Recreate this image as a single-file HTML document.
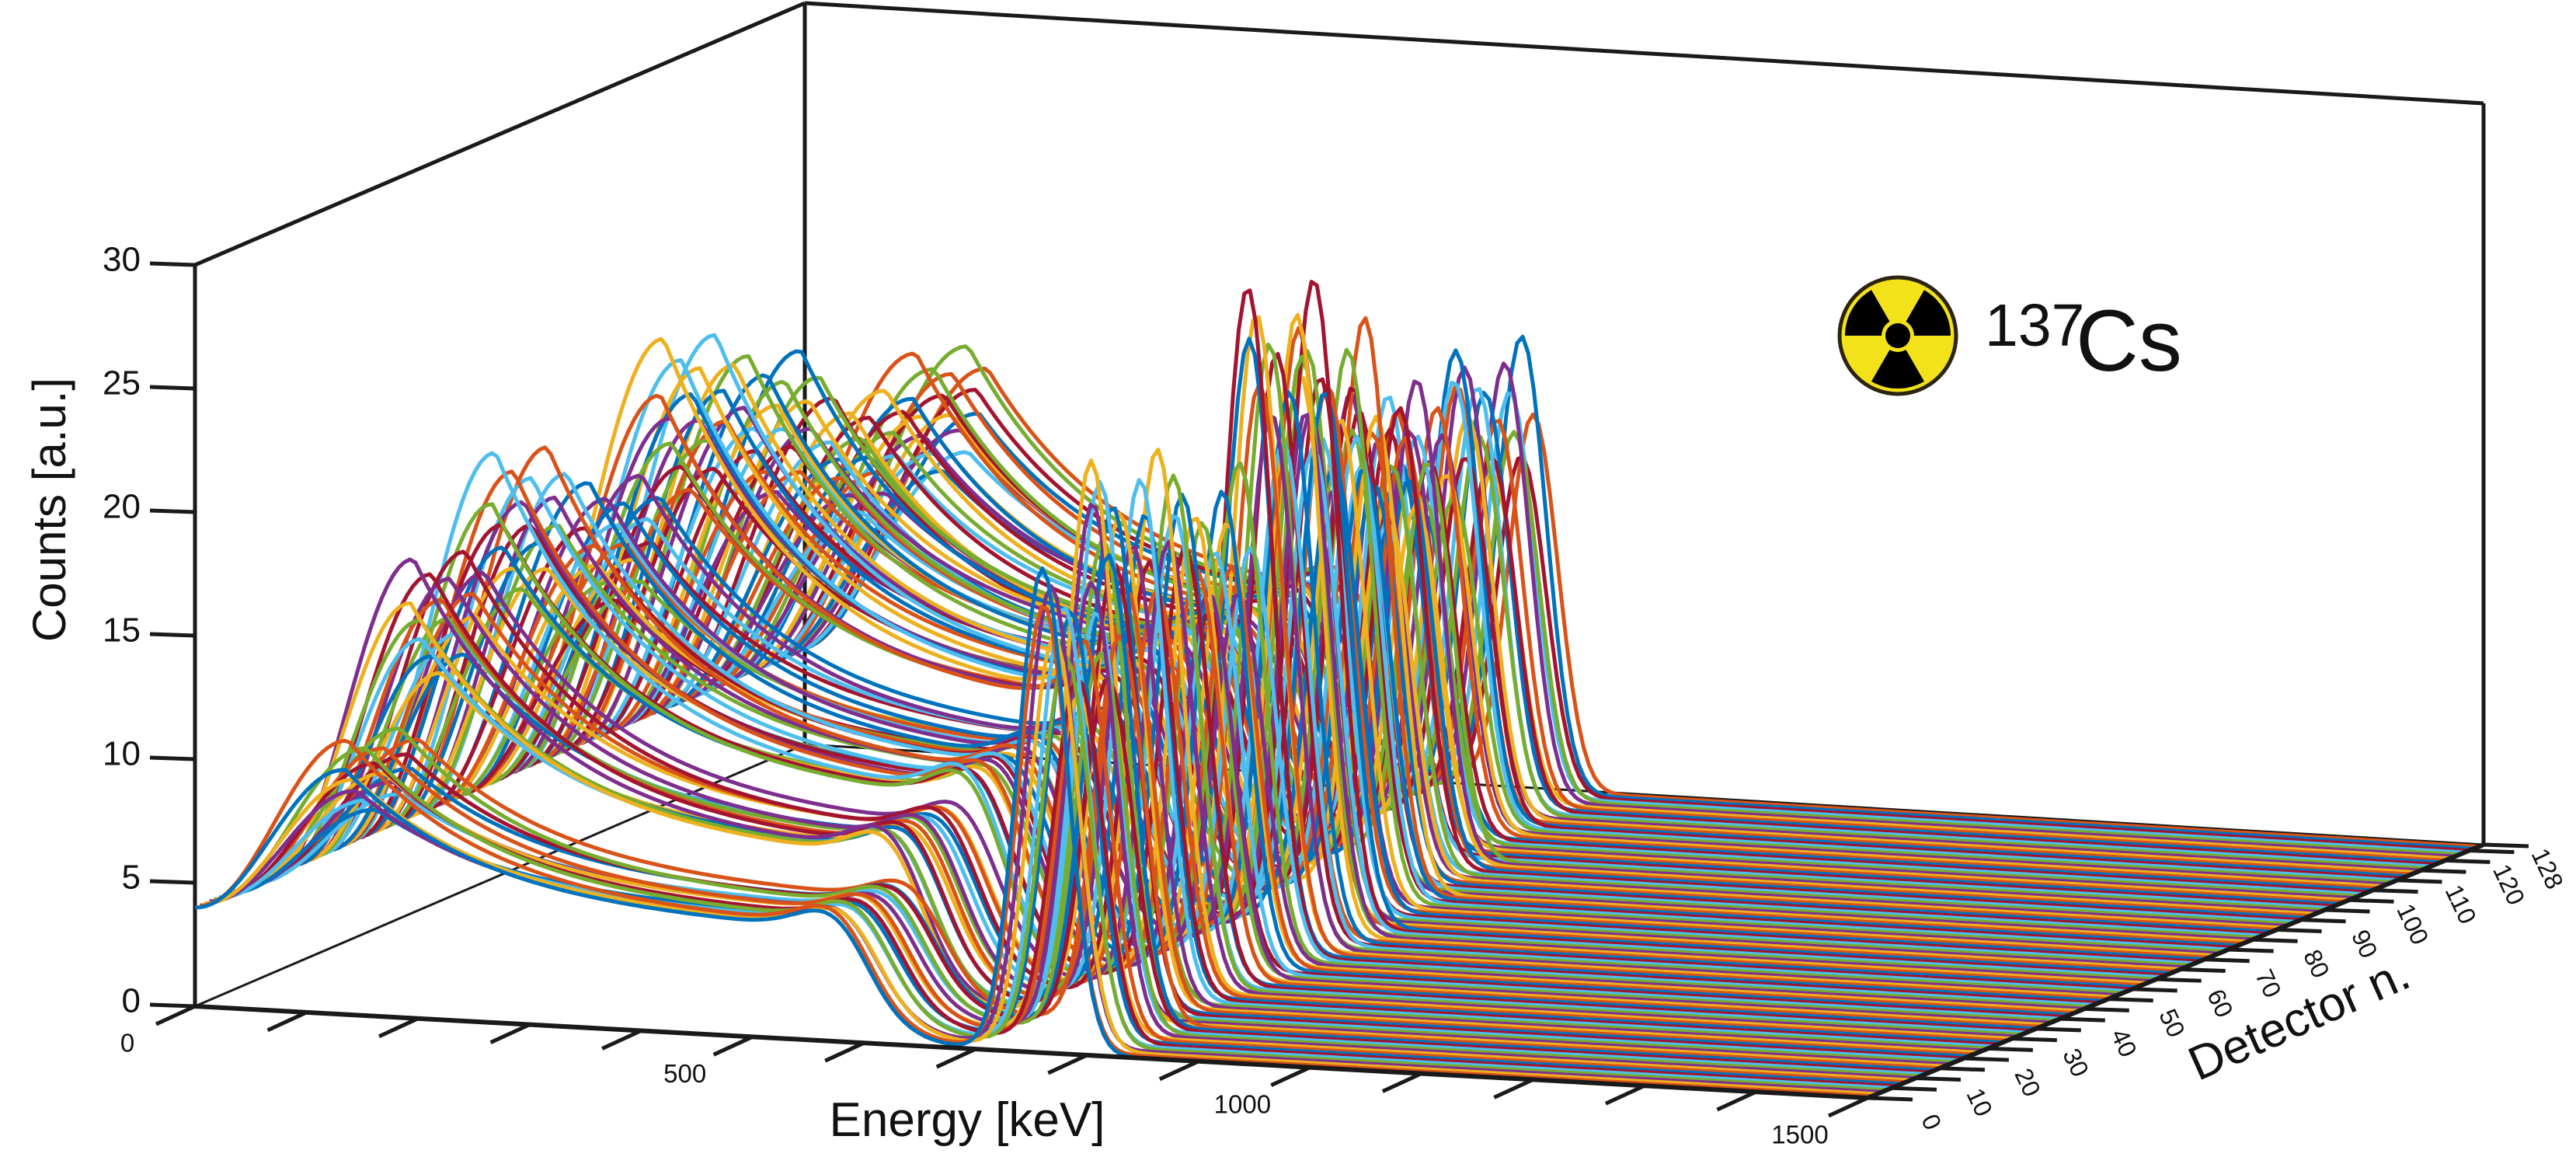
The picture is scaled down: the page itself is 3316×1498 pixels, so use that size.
<!DOCTYPE html>
<html><head><meta charset="utf-8"><title>137Cs spectra waterfall</title>
<style>
html,body{margin:0;padding:0;background:#fff;}
svg{display:block;}
text{font-family:"Liberation Sans",Arial,sans-serif;fill:#111;}
</style></head>
<body>
<svg id="chart" width="3316" height="1498" viewBox="0 0 3316 1498" xmlns="http://www.w3.org/2000/svg">
<g id="walls" stroke="#1a1a1a" stroke-width="5" fill="none"></g>
<g id="curves" fill="none" stroke-width="5" stroke-linejoin="round"></g>
<g id="axes" stroke="#1a1a1a" stroke-width="6" fill="none"></g>
<g id="labels"></g>
<g transform="translate(2443,432)">
  <circle r="75" fill="#f3e11a" stroke="#2a2410" stroke-width="5"/>
  <path d="M0,0 L-68,0 A68,68 0 0 1 -34,-58.9 Z" fill="#000"/>
  <path d="M0,0 L34,-58.9 A68,68 0 0 1 68,0 Z" fill="#000"/>
  <path d="M0,0 L34,58.9 A68,68 0 0 1 -34,58.9 Z" fill="#000"/>
  <circle r="21" fill="#f3e11a"/>
  <circle r="16" fill="#000"/>
</g>
<text x="2555" y="445" font-size="77">137</text>
<text x="2672" y="477" font-size="112">Cs</text>
<text x="0" y="0" font-size="60" text-anchor="middle" transform="translate(84,656) rotate(-90)">Counts [a.u.]</text>
<text x="1245" y="1462" font-size="62" text-anchor="middle">Energy [keV]</text>
<text x="0" y="0" font-size="62" text-anchor="middle" transform="translate(2968,1330) rotate(-24)">Detector n.</text>
</svg>
<script>
// ---- data (per detector module of 16 detectors) ----
const modulePeakEnergy = [760, 735, 740, 738, 715, 693, 658, 650];   // keV
const modulePeakHeight = [19.6, 22.6, 20.7, 27, 24, 20, 18.5, 19];    // counts
const moduleHumpEnergy = [135, 125, 130, 146, 144, 152, 160, 165];    // keV
const moduleHumpHeight = [11, 17, 20, 17.5, 22, 20, 17, 17.5];        // counts
const moduleContinuum = [4.5, 6, 7, 7, 8, 8, 7, 7];                   // counts
const detectorPeakShift = [0, -3, 2, -5, 4, -2, 6, -4, 3, -6, 1, 5, -3, 3, -1, 5];
const detectorHeightScale = [1, 0.92, 0.85, 0.95, 0.8, 0.9, 0.75, 0.88, 0.82, 0.7, 0.93, 0.78, 0.86, 0.72, 0.97, 0.8];
const detectorHumpScale = [0.9, 1, 0.85, 0.8, 0.95, 0.75, 0.88, 0.7, 0.92, 0.82, 0.78, 0.97, 0.72, 0.86, 0.8, 0.9];
const zTicks = [0, 5, 10, 15, 20, 25, 30];
const energyTicks = [0,100,200,300,400,500,600,700,800,900,1000,1100,1200,1300,1400,1500];
const energyTickLabels = ["0","500","1000","1500"];
const detectorTicks = [0,5,10,15,20,25,30,35,40,45,50,55,60,65,70,75,80,85,90,95,100,105,110,115,120,125,128];
const detectorTickLabels = ["0","10","20","30","40","50","60","70","80","90","100","110","120","128"];
const colors = ["#0072BD","#D95319","#EDB120","#7E2F8E","#77AC30","#4DBEEE","#A2142F"];

const NS = "http://www.w3.org/2000/svg";
const EMAX = 1500, DMAX = 128, ZMAX = 30;
function P(E, d, z) {
  const e = E / EMAX, t = d / DMAX;
  return [251 + e*2153 + t*785 + e*t*8, 1295 + e*118 - t*337 + e*t*11 - z*31.8];
}
function line(g, a, b, name, w) {
  const l = document.createElementNS(NS, "line");
  l.setAttribute("x1", a[0]); l.setAttribute("y1", a[1]);
  l.setAttribute("x2", b[0]); l.setAttribute("y2", b[1]);
  if (w) l.setAttribute("stroke-width", w);
  
  
  g.appendChild(l);
}
function text(str, x, y, size, anchor, rot, name) {
  const t = document.createElementNS(NS, "text");
  t.textContent = str;
  t.setAttribute("font-size", size);
  t.setAttribute("text-anchor", anchor);
  t.setAttribute("dominant-baseline", "middle");
  t.setAttribute("transform", "translate(" + x + "," + y + ")" + (rot ? " rotate(" + rot + ")" : ""));
  
  
  document.getElementById("labels").appendChild(t);
}
const walls = document.getElementById("walls");
line(walls, P(0,0,0), P(0,0,ZMAX), "z-axis-line");
line(walls, P(0,0,ZMAX), P(0,DMAX,ZMAX), "left-wall-top-edge");
line(walls, P(0,DMAX,0), P(0,DMAX,ZMAX), "back-left-edge");
line(walls, P(0,DMAX,ZMAX), P(EMAX,DMAX,ZMAX), "back-wall-top-edge");
line(walls, P(EMAX,DMAX,0), P(EMAX,DMAX,ZMAX), "back-right-edge");
line(walls, P(0,0,0), P(0,DMAX,0), "floor-left-edge", 3);
line(walls, P(0,DMAX,0), P(EMAX,DMAX,0), "floor-back-edge", 3);

function spectrum(d, E) {
  const m = Math.min(7, Math.floor(d / 16)), k = d % 16;
  const Ep = modulePeakEnergy[m] + detectorPeakShift[k];
  const Hp = modulePeakHeight[m] * detectorHeightScale[k];
  const Eh = moduleHumpEnergy[m] + detectorPeakShift[k] * 0.5;
  const c = moduleContinuum[m] * (0.85 + 0.15 * detectorHumpScale[k]);
  const H = Math.max(c + 1, moduleHumpHeight[m] * detectorHumpScale[k]);
  const Ec = 0.8 * Ep;
  let s;
  if (E < Eh) { const q = Math.sin(Math.PI / 2 * E / Eh); s = 4 + (H - 4) * q * q; }
  else s = c + (H - c) * Math.exp(-(E - Eh) / 120);
  s += 0.3 * c * Math.exp(-Math.pow((E - Ec + 30) / 45, 2));
  s *= 1 / (1 + Math.exp((E - Ec) / 20));
  s += Hp * Math.exp(-0.5 * Math.pow((E - Ep) / 22, 2));
  return s;
}
const curves = document.getElementById("curves");
for (let d = DMAX - 1; d >= 0; d--) {
  let dstr = "";
  for (let E = 0; E <= EMAX; E += 5) {
    const p = P(E, d, spectrum(d, E));
    dstr += (E === 0 ? "M" : "L") + p[0].toFixed(1) + "," + p[1].toFixed(1);
  }
  const path = document.createElementNS(NS, "path");
  path.setAttribute("d", dstr);
  path.setAttribute("stroke", colors[d % colors.length]);
  
  
  curves.appendChild(path);
}

const axes = document.getElementById("axes");
line(axes, P(0,0,0), P(EMAX,0,0), "energy-axis-line");
line(axes, P(EMAX,0,0), P(EMAX,DMAX,0), "detector-axis-line");
zTicks.forEach(z => {
  const p = P(0,0,z);
  line(axes, [p[0]-58, p[1]-2], p, "z-tick", 5);
  text(String(z), p[0]-70, p[1]-4, 44, "end", 0, "z-tick-label");
});
energyTicks.forEach(E => {
  const p = P(E,0,0);
  line(axes, p, [p[0]-50, p[1]+23], "energy-tick", 5);
  const lbl = String(E);
  if (energyTickLabels.indexOf(lbl) >= 0) text(lbl, p[0]-87, p[1]+50, 33, "middle", 0, "energy-tick-label");
});
detectorTicks.forEach(D => {
  const p = P(EMAX,D,0);
  line(axes, p, [p[0]+58, p[1]+2], "detector-tick", 5);
  const lbl = String(D);
  if (detectorTickLabels.indexOf(lbl) >= 0) text(lbl, p[0]+80, p[1]+32, 32, "middle", 65, "detector-tick-label");
});
</script>
</body></html>
